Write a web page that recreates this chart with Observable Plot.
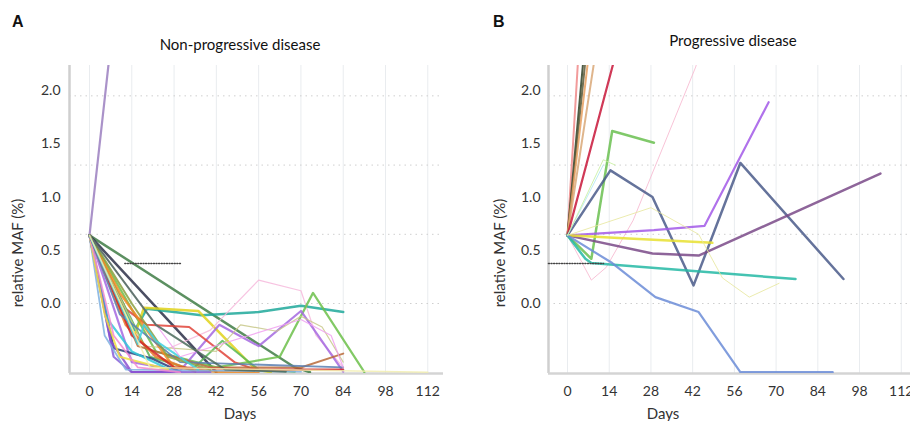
<!DOCTYPE html>
<html>
<head>
<meta charset="utf-8">
<script src="https://cdn.jsdelivr.net/npm/d3@7"></script>
<script src="https://cdn.jsdelivr.net/npm/@observablehq/plot@0.6"></script>
<style>
  html, body { margin: 0; padding: 0; background: #fff; overflow: hidden; width: 910px; height: 421px; }
  #wrap { position: relative; width: 910px; height: 421px; overflow: hidden; font-family: Lato, "Open Sans", sans-serif; color: #222; }
  .abs { position: absolute; white-space: nowrap; }
  .panel { position: absolute; top: 0; }
  .panel svg { max-width: none !important; }
  .letter { font-family: "Liberation Sans", Arial, sans-serif; font-weight: bold; font-size: 16px; color: #111; }
  .title { font-size: 15px; color: #111; transform: translate(-50%, -50%); }
  .ylab { font-size: 15px; color: #333; transform: translate(-50%, -50%) rotate(-90deg); }
  .xlab { font-size: 15px; color: #333; transform: translate(-50%, -50%); }
</style>
</head>
<body>
<div id="wrap">
  <div class="abs letter" style="left:12px; top:13px;">A</div>
  <div class="abs letter" style="left:493px; top:13px;">B</div>
  <div class="abs title" style="left:240px; top:44px;">Non-progressive disease</div>
  <div class="abs title" style="left:733px; top:40px;">Progressive disease</div>
  <div id="pa" class="panel" style="left:0px; width:455px;"></div>
  <div id="pb" class="panel" style="left:455px; width:500px;"></div>
  <div class="abs ylab" style="left:17px; top:253px;">relative MAF (%)</div>
  <div class="abs ylab" style="left:499px; top:253px;">relative MAF (%)</div>
  <div class="abs xlab" style="left:240px; top:413px;">Days</div>
  <div class="abs xlab" style="left:663px; top:413px;">Days</div>
</div>
<script>
// ---- tick labels ----
const xTicks = [0, 14, 28, 42, 56, 70, 84, 98, 112];
const yTicks = [0.0, 0.5, 1.0, 1.5, 2.0];
const gridLevels = [0.0, 0.65, 1.3, 1.95];
const thresholdLevel = 0.376;
const thresholdDaysA = [11.7, 30.3];
const thresholdDaysB = [-6.4, 12.1];

// ---- Panel A: Non-progressive disease (days / relative MAF per patient) ----
const npDays = [
  [0, 7.3],
  [0, 68, 73],
  [0, 42],
  [0, 15, 19, 37, 56, 70, 84],
  [0, 15, 18, 36, 55, 60],
  [0, 20, 40, 56, 70, 75, 84],
  [0, 22, 42, 63, 74, 91],
  [0, 14, 30, 43, 56, 70, 84],
  [0, 12, 19, 33, 48, 56],
  [0, 20, 34, 44, 56, 68],
  [0, 18, 42, 50, 62, 70, 77, 84],
  [0, 8, 21, 30],
  [0, 16, 40, 70, 84],
  [0, 10, 28, 42, 56],
  [0, 12, 22, 35],
  [0, 8, 14, 40],
  [0, 6, 14, 28],
  [0, 7, 14, 28],
  [0, 5, 12, 70],
  [0, 5, 10, 26],
  [0, 8, 16, 30],
  [0, 14, 28, 56, 70, 84],
  [0, 10, 30, 84],
  [0, 14, 26, 40],
  [0, 16, 18, 22, 36],
  [0, 30, 70, 80, 84],
  [0, 22, 45, 65],
  [0, 20, 112]
];
const npMAF = [
  [0.64, 2.5],
  [0.64, -0.6, -0.645],
  [0.64, -0.645],
  [0.64, -0.25, -0.05, -0.11, -0.08, -0.02, -0.08],
  [0.64, -0.3, -0.04, -0.07, -0.62, -0.645],
  [0.64, -0.5, -0.25, 0.22, 0.12, -0.3, -0.6],
  [0.64, -0.45, -0.6, -0.5, 0.1, -0.645],
  [0.64, -0.55, -0.63, -0.2, -0.4, -0.07, -0.64],
  [0.64, -0.05, -0.2, -0.22, -0.55, -0.63],
  [0.64, -0.5, -0.62, -0.35, -0.62, -0.64],
  [0.64, -0.4, -0.45, -0.2, -0.26, -0.12, -0.22, -0.55],
  [0.64, -0.42, -0.52, -0.64],
  [0.64, -0.4, -0.6, -0.6, -0.47],
  [0.64, 0.1, -0.6, -0.64, -0.64],
  [0.64, -0.2, -0.5, -0.64],
  [0.64, -0.5, -0.645, -0.645],
  [0.64, -0.15, -0.45, -0.64],
  [0.64, -0.35, -0.645, -0.645],
  [0.64, -0.3, -0.62, -0.64],
  [0.64, -0.1, -0.5, -0.62],
  [0.64, -0.3, -0.6, -0.645],
  [0.64, -0.3, -0.6, -0.62, -0.62, -0.62],
  [0.64, -0.1, -0.55, -0.6],
  [0.64, 0.0, -0.5, -0.62],
  [0.64, -0.38, -0.2, -0.35, -0.62],
  [0.64, -0.5, -0.15, -0.3, -0.6],
  [0.64, -0.2, -0.62, -0.64],
  [0.64, -0.6, -0.645]
];
const npColors = ["#9b7fc0", "#3f7d45", "#2b2f48", "#1fa89a", "#e0d21a", "#f6b8dc", "#6cbf4a",
  "#a569e0", "#e0443a", "#58b858", "#c8c88a", "#2a3f7a", "#b86a3a", "#f08a24", "#e8782a",
  "#8a5fd8", "#30c8d8", "#8a4fd0", "#7fb0e0", "#f0e040", "#f28ad0", "#d02828", "#5a7fb0",
  "#8aa040", "#40d0e0", "#f0a0f0", "#4a6a5a", "#f2eeb0"];
const npWidths = [2.2, 2.5, 2.5, 2.5, 2.5, 1.2, 2.2, 2.2, 2, 2, 1.2, 2.2, 2, 2.5, 2.5, 2.2, 2.2, 2.2,
  1.8, 2, 1.8, 2.2, 1.8, 2, 2, 1.2, 2, 1.5];

// ---- Panel B: Progressive disease ----
const pdDays = [
  [0, 4.0],
  [0, 6.0],
  [0, 6.8],
  [0, 7.8],
  [0, 10.2],
  [0, 17.7],
  [0, 8, 13, 22, 43, 46],
  [0, 8, 15, 29],
  [0, 14.4, 28.5, 42.3, 58, 92.6],
  [0, 29, 46, 67.5],
  [0, 28.5, 44, 105],
  [0, 14, 48.6],
  [0, 6, 8, 76.5],
  [0, 15, 29.5, 44, 58, 89],
  [0, 28, 44, 52, 61, 71],
  [0, 12],
  [0, 12, 16]
];
const pdMAF = [
  [0.64, 2.5],
  [0.64, 2.5],
  [0.64, 2.5],
  [0.64, 2.5],
  [0.64, 2.5],
  [0.64, 2.5],
  [0.64, 0.22, 0.34, 0.78, 2.22, 2.5],
  [0.64, 0.42, 1.62, 1.51],
  [0.64, 1.25, 1.0, 0.17, 1.32, 0.23],
  [0.64, 0.69, 0.73, 1.89],
  [0.64, 0.47, 0.45, 1.22],
  [0.64, 0.62, 0.57],
  [0.64, 0.42, 0.38, 0.23],
  [0.64, 0.38, 0.06, -0.08, -0.645, -0.645],
  [0.64, 0.9, 0.65, 0.24, 0.06, 0.19],
  [0.64, 1.3],
  [0.64, 1.35, 1.3]
];
const pdColors = ["#f08a8a", "#2f3f24", "#5a5a3a", "#e8a060", "#d9a878", "#c8163a", "#f7b8d0",
  "#6abf50", "#4a5a8a", "#a259e8", "#7a4a88", "#e8e030", "#25b8a5", "#6b8cd7", "#e8e8a0",
  "#b0e8f0", "#c8f0a0"];
const pdWidths = [2, 2, 2, 2, 2, 2.2, 1, 2.5, 2.5, 2.2, 2.5, 2.5, 2.5, 2.2, 1, 1, 1];

function seriesMarks(daysArr, mafArr, colors, widths) {
  return daysArr.map((days, i) => Plot.line(
    days.map((d, j) => ({day: d, maf: mafArr[i][j]})),
    {x: "day", y: "maf", stroke: colors[i], strokeWidth: widths[i], strokeOpacity: 0.85,
     strokeLinejoin: "round", strokeLinecap: "round", clip: true}
  ));
}

function panel(opts, daysArr, mafArr, colors, widths, thrDays) {
  const [x0, x1] = opts.xDomain;
  const [y0, y1] = [-0.657, 2.235];
  return Plot.plot({
    width: opts.width, height: 421,
    marginLeft: opts.marginLeft, marginRight: opts.marginRight,
    marginTop: 65, marginBottom: 48,
    x: {domain: [x0, x1], ticks: xTicks, tickSize: 0, tickPadding: 13, label: null},
    y: {domain: [y0, y1], ticks: yTicks, tickFormat: d3.format(".1f"), tickSize: 0, tickPadding: opts.yPad, label: null},
    style: {fontFamily: "Lato, 'Open Sans', sans-serif", fontSize: "14px", color: "#333", background: "transparent", overflow: "visible", maxWidth: "none"},
    marks: [
      Plot.ruleX(xTicks, {stroke: "#e9ecef", strokeWidth: 1}),
      Plot.ruleY(gridLevels, {stroke: "#cfcfcf", strokeWidth: 1, strokeDasharray: "1.5,4"}),
      Plot.ruleX([x0], {stroke: "#cfcfcf", strokeWidth: 2.5}),
      Plot.ruleY([y0], {stroke: "#d4d4d4", strokeWidth: 2.5}),
      ...seriesMarks(daysArr, mafArr, colors, widths),
      Plot.line(thrDays.map(d => ({day: d, maf: thresholdLevel})),
        {x: "day", y: "maf", stroke: "#444", strokeWidth: 1.5, strokeDasharray: "1,1.6"})
    ]
  });
}

document.getElementById("pa").appendChild(
  panel({width: 455, marginLeft: 69, marginRight: 12, xDomain: [-6.62, 117.2], yPad: 9},
        npDays, npMAF, npColors, npWidths, thresholdDaysA));
document.getElementById("pb").appendChild(
  panel({width: 500, marginLeft: 93, marginRight: 30.4, xDomain: [-6.38, 120], yPad: 8},
        pdDays, pdMAF, pdColors, pdWidths, thresholdDaysB));
</script>
</body>
</html>
